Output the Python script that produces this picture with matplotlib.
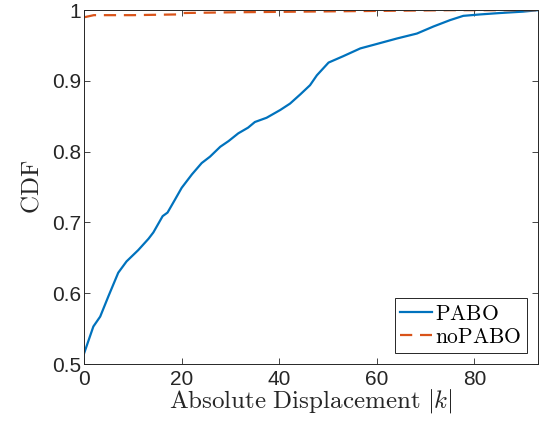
import matplotlib
matplotlib.use("Agg")
import matplotlib.pyplot as plt
import numpy as np

plt.rcParams['mathtext.fontset'] = 'cm'
plt.rcParams['font.family'] = ['Liberation Sans', 'DejaVu Sans']

pabo_x = [0, 1.9, 3.3, 5.0, 7.0, 8.7, 11.1, 13.2, 14.2, 16.1, 17.1, 18.6, 20.0, 22.1, 24.1, 25.8,
          27.9, 29.6, 31.6, 33.6, 35.0, 37.4, 40.2, 42.2, 44.3, 46.3, 47.7, 50.1, 53.1, 56.6,
          59.3, 64.1, 68.2, 71.6, 75.0, 77.7, 81.1, 85.2, 90.0, 93.0]
pabo_y = [0.515, 0.553, 0.567, 0.596, 0.629, 0.645, 0.661, 0.677, 0.686, 0.709, 0.714, 0.732,
          0.749, 0.768, 0.784, 0.793, 0.807, 0.815, 0.826, 0.834, 0.842, 0.848, 0.859, 0.868,
          0.881, 0.894, 0.908, 0.926, 0.935, 0.946, 0.951, 0.960, 0.967, 0.977, 0.986, 0.992,
          0.994, 0.996, 0.998, 1.0]

nopabo_x = [0, 2, 10, 19, 20, 30, 45, 60, 75, 93]
nopabo_y = [0.990, 0.993, 0.993, 0.994, 0.996, 0.997, 0.998, 0.999, 1.0, 1.0]

xticks = [0, 20, 40, 60, 80]
yticks = [0.5, 0.6, 0.7, 0.8, 0.9, 1.0]
yticklabels = ['0.5', '0.6', '0.7', '0.8', '0.9', '1']

fig = plt.figure(figsize=(5.39, 4.25), dpi=100)
ax = fig.add_axes([0.156, 0.1435, 0.842, 0.8325])

ax.plot(pabo_x, pabo_y, color='#0072BD', lw=1.6, label=r'$\mathrm{PABO}$')
ax.plot(nopabo_x, nopabo_y, color='#D95319', lw=1.6, ls=(0, (5.5, 3.5)), label=r'$\mathrm{noPABO}$')

ax.set_xlim(0, 93)
ax.set_ylim(0.5, 1.0)
ax.set_xticks(xticks)
ax.set_yticks(yticks)
ax.set_yticklabels(yticklabels)
ax.tick_params(direction='in', top=True, right=True, labelsize=15, colors='#262626',
               length=4, width=0.6)
ax.tick_params(axis='x', pad=4)
ax.tick_params(axis='y', pad=2)
for s in ax.spines.values():
    s.set_color('#262626')
    s.set_linewidth(0.7)

ax.set_xlabel(r'$\mathrm{Absolute\ Displacement}\ |k|$', fontsize=18, color='#262626', labelpad=-1)
ax.set_ylabel(r'$\mathrm{CDF}$', fontsize=18, color='#262626', labelpad=6)

leg = ax.legend(loc='lower right', fontsize=15.5, frameon=True, fancybox=False,
                edgecolor='#262626', framealpha=1, handlelength=1.5, handletextpad=0.15,
                borderpad=0.25, labelspacing=0.1, borderaxespad=0.5)
leg.get_frame().set_linewidth(0.7)

fig.savefig('out.png', dpi=100)
